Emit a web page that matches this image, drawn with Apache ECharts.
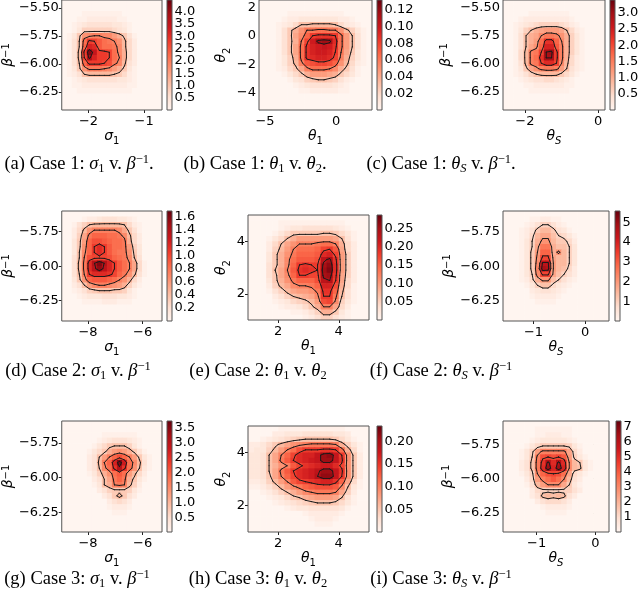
<!DOCTYPE html>
<html lang="en">
<head>
<meta charset="UTF-8">
<title>Posterior density panels</title>
<script src="https://cdn.jsdelivr.net/npm/echarts@6.0.0/dist/echarts.min.js"></script>
<style>
    html, body { margin: 0; padding: 0; background: #fff; }
    #main { width: 640px; height: 602px; }
</style>
</head>
<body>
<div id="main"></div>
<script>
    // density grids: 20 x 20 cells over the axis limits, top row first,
    // one base-36 char per cell (0..z -> 0..colorbar max)
    var densA = [
        "00000000000000000000", "00000000000000000000", "00001111111100000000", "00011222222110000000",
        "00123444443321000000", "00136666665431000000", "0137deffeeca74100000", "0148hmljhgfd95200000",
        "0148ipojhhge95200000", "0149mxrmmlhea5200000", "0149lupmmlhfa5200000", "0148immmlkge94200000",
        "0137dgggfeca73100000", "01248999998752100000", "00123444444332100000", "00112222222221100000",
        "00011111111111000000", "00000000000000000000", "00000000000000000000", "00000000000000000000"];
    var densB = [
        "00000000000000000000", "00000000000000000000", "00000111111111100000", "00001223333333221000",
        "00012358899998532100", "000147adgghhggd96310", "000147beimnnnmhc8410", "000147aglquvuohc8410",
        "000147bhnpqrqnhc8410", "000147bhnpqqpmgb7310", "000136ahnoppolfa6310", "0001369fjkllkid95210",
        "0001257bfhhhgea74100", "00001357acccba753100", "00000134678876421000", "00000012344443210000",
        "00000001122222110000", "00000000000000000000", "00000000000000000000", "00000000000000000000"];
    var densC = [
        "00000000000000000000", "00000000000000000000", "00000111111110000000", "00012222222221000000",
        "00123456666542100000", "001368abcccb85210000", "00148abeggfda6310000", "00148achnniea6310000",
        "00148bdippjfa6310000", "00159fgluvmfa6310000", "00159fhnuumfa5210000", "00149fgloole95210000",
        "00137bdfggfc84210000", "00124689999753100000", "00012344554321000000", "00001122222211000000",
        "00000111111110000000", "00000000000000000000", "00000000000000000000", "00000000000000000000"];
    var densD = [
        "00000000000000000000", "00001223444332100000", "00146899999985210000", "00259dfffffeb7410000",
        "0026bgiiihhge9520000", "0037cikkjihhga520000", "0037dimomjhhgc630000", "0038eimomjhggd730000",
        "0048fklllkihge840000", "0049gotxtpmjhfb51000", "0049goswspmjhfb51000", "0048fmooonligd941000",
        "0037dijjjihfda520000", "00248ceffedca6310000", "00124678887763100000", "00012333444332100000",
        "00001111222111000000", "00000000000000000000", "00000000000000000000", "00000000000000000000"];
    var densE = [
        "00000000000000000000", "00000111111111110000", "00000123344444321000", "00001357777788753100",
        "0001358accccccb84100", "000258bdfffghhfa5200", "000269cfhhhilmjb5200", "00037adgiiijoplc6200",
        "00037aehjjjksunc6200", "00047aeimnmmuwoc6200", "00048bfjnonmvxoc6200", "00047beimmlluvnb6200",
        "00037adgiiikstmb5200", "000269beffgippka5100", "0001469bccdgnni94100", "000024689abemmg84100",
        "00001235679ckle63100", "00000122357affb52000", "000000011246aa731000", "00000000012466421000"];
    var densF = [
        "00000000000000000000", "00000112211000000000", "00001246642100000000", "00012479974310000000",
        "0001259bb86531000000", "000136add97752000000", "000136bgga8863000000", "000137ciiad963000000",
        "000137dllb9963000000", "000137essc9963000000", "000137futc9852000000", "000136ellb8642000000",
        "000125add86421000000", "00001368853210000000", "00000234432100000000", "00000122221000000000",
        "00000011110000000000", "00000000000000000000", "00000000000000000000", "00000000000000000000"];
    var densG = [
        "00000000000000000000", "00000000000000000000", "00000000111111100000", "00000001234443210000",
        "00000013578886310000", "000001357acdca741000", "00000248cfikifc73100", "00000249fipxqhe94100",
        "00000248ehntnhd83100", "00000136adhjhc952000", "000000248bgiga731000", "000000138afgf9620000",
        "00000002467776310000", "00000000247974200000", "00000000024542000000", "00000000012221000000",
        "00000000001110000000", "00000000000000000000", "00000000000000000000", "00000000000000000000"];
    var densH = [
        "00000111111111110000", "00002233344444332000", "00123456788888753100", "223579bdefggggfa6310",
        "23369cfhkmmmnnmha510", "3348bfilopprvwrmd720", "3348bgjmopqrvvrnd720", "3348adfjlnopqqold720",
        "3348bgjmopqsvvrnd720", "3347bfilopqtwwrmd720", "22369cfjlmnoppnib510", "112469cegijkkkje8310",
        "0012468acefgggfb6200", "000123578abcccb84100", "00001234567888753100", "00000012334444431000",
        "00000000012222210000", "00000000001222100000", "00000000000111000000", "00000000000000000000"];
    var densI = [
        "00000000000000000000", "00000011111110000000", "00000011222110000000", "00000123333321000000",
        "00001357777763100000", "000136cfffffb5200000", "000137fklkljc6310000", "000248gntotoe9731000",
        "000248govpvpe9831000", "000136eiklkhb5310000", "000025cfhjhe94200000", "0000149ceeeb73100000",
        "00000256666664200000", "00000248989842000000", "00000024555420000000", "00000001222210000000",
        "00000000111100000000", "00000000000000000000", "00000000000000000000", "00000000000000000000"];

    // axis limits and ticks
    var xLimA = [-2.48, -0.68], yLimA = [-6.41, -5.43], xTicksA = [-2, -1], yTicksA = [-5.5, -5.75, -6.0, -6.25];
    var xLimB = [-5.42, 2.51], yLimB = [-5.22, 2.51], xTicksB = [-5, 0], yTicksB = [2, 0, -2, -4];
    var xLimC = [-2.6, 0.19], yLimC = [-6.41, -5.43], xTicksC = [-2, 0], yTicksC = [-5.5, -5.75, -6.0, -6.25];
    var xLimD = [-8.96, -5.29], yLimD = [-6.397, -5.60], xTicksD = [-8, -6], yTicksD = [-5.75, -6.0, -6.25];
    var xLimE = [1, 5], yLimE = [1, 5], xTicksE = [2, 4], yTicksE = [4, 2];
    var xLimF = [-1.59, 0.46], yLimF = [-6.397, -5.60], xTicksF = [-1, 0], yTicksF = [-5.75, -6.0, -6.25];
    var xLimG = [-8.96, -5.29], yLimG = [-6.39, -5.594], xTicksG = [-8, -6], yTicksG = [-5.75, -6.0, -6.25];
    var xLimH = [1, 5], yLimH = [1, 5], xTicksH = [2, 4], yTicksH = [4, 2];
    var xLimI = [-1.57, 0.23], yLimI = [-6.39, -5.58], xTicksI = [-1, 0], yTicksI = [-5.75, -6.0, -6.25];

    // colorbar max and ticks, contour levels
    var cmaxA = 4.48, cTicksA = [0.5, 1, 1.5, 2, 2.5, 3, 3.5, 4], levelsA = [1.02, 1.92, 2.69, 3.71];
    var cmaxB = 0.132, cTicksB = [0.02, 0.04, 0.06, 0.08, 0.1, 0.12], levelsB = [0.030, 0.060, 0.083, 0.109];
    var cmaxC = 3.40, cTicksC = [0.5, 1, 1.5, 2, 2.5, 3], levelsC = [0.78, 1.36, 2.04, 2.90];
    var cmaxD = 1.69, cTicksD = [0.2, 0.4, 0.6, 0.8, 1.0, 1.2, 1.4, 1.6], levelsD = [0.39, 0.72, 1.06, 1.41];
    var cmaxE = 0.286, cTicksE = [0.05, 0.10, 0.15, 0.20, 0.25], levelsE = [0.065, 0.123, 0.180, 0.237];
    var cmaxF = 5.57, cTicksF = [1, 2, 3, 4, 5], levelsF = [0.95, 1.91, 3.18, 4.30];
    var cmaxG = 3.74, cTicksG = [0.5, 1, 1.5, 2, 2.5, 3, 3.5], levelsG = [0.85, 1.60, 2.35, 3.21];
    var cmaxH = 0.234, cTicksH = [0.05, 0.10, 0.15, 0.20], levelsH = [0.053, 0.100, 0.147, 0.194];
    var cmaxI = 7.37, cTicksI = [1, 2, 3, 4, 5, 6, 7], levelsI = [1.47, 2.95, 4.42, 5.90];

    var REDS = ['#fff5f0', '#fee0d2', '#fcbba1', '#fc9272', '#fb6a4a', '#ef3b2c', '#cb181d', '#a50f15', '#67000d'];

    var SIG1 = '{m|σ}{s|1}', TH1 = '{m|θ}{s|1}', TH2 = '{m|θ}{s|2}', THS = '{m|θ}{si|S}', BINV = '{m|β}{p|−1}';

    var panels = [
        {dens: densA, xLim: xLimA, yLim: yLimA, xTicks: xTicksA, yTicks: yTicksA, yDec: 2, cmax: cmaxA, cTicks: cTicksA, cDec: 1, levels: levelsA,
            box: [61, 0, 162, 110], cbar: [167, 0, 172, 110], xName: SIG1, yName: BINV, yGap: 41,
            cap: '(a) Case 1: {i|σ}{sb|1} v. {i|β}{sp|−1}.', capPos: [79, 153]},
        {dens: densB, xLim: xLimB, yLim: yLimB, xTicks: xTicksB, yTicks: yTicksB, yDec: 0, cmax: cmaxB, cTicks: cTicksB, cDec: 2, levels: levelsB,
            box: [259, 0, 372, 110], cbar: [377, 0, 382, 110], xName: TH1, yName: TH2, yGap: 27,
            cap: '(b) Case 1: {i|θ}{sb|1} v. {i|θ}{sb|2}.', capPos: [255, 153]},
        {dens: densC, xLim: xLimC, yLim: yLimC, xTicks: xTicksC, yTicks: yTicksC, yDec: 2, cmax: cmaxC, cTicks: cTicksC, cDec: 1, levels: levelsC,
            box: [503, 0, 605, 110], cbar: [610, 0, 615, 110], xName: THS, yName: BINV, yGap: 46,
            cap: '(c) Case 1: {i|θ}{sbi|S} v. {i|β}{sp|−1}.', capPos: [441, 153]},
        {dens: densD, xLim: xLimD, yLim: yLimD, xTicks: xTicksD, yTicks: yTicksD, yDec: 2, cmax: cmaxD, cTicks: cTicksD, cDec: 1, levels: levelsD,
            box: [61, 211, 162, 321], cbar: [167, 211, 172, 321], xName: SIG1, yName: BINV, yGap: 42,
            cap: '(d) Case 2: {i|σ}{sb|1} v. {i|β}{sp|−1}', capPos: [78, 360]},
        {dens: densE, xLim: xLimE, yLim: yLimE, xTicks: xTicksE, yTicks: yTicksE, yDec: 0, cmax: cmaxE, cTicks: cTicksE, cDec: 2, levels: levelsE,
            box: [248, 215, 369, 320], cbar: [377, 215, 382, 320], xName: TH1, yName: TH2, yGap: 12,
            cap: '(e) Case 2: {i|θ}{sb|1} v. {i|θ}{sb|2}', capPos: [258, 360]},
        {dens: densF, xLim: xLimF, yLim: yLimF, xTicks: xTicksF, yTicks: yTicksF, yDec: 2, cmax: cmaxF, cTicks: cTicksF, cDec: 0, levels: levelsF,
            box: [503, 211, 609, 321], cbar: [615, 211, 620, 321], xName: THS, yName: BINV, yGap: 41,
            cap: '(f) Case 2: {i|θ}{sbi|S} v. {i|β}{sp|−1}', capPos: [441, 360]},
        {dens: densG, xLim: xLimG, yLim: yLimG, xTicks: xTicksG, yTicks: yTicksG, yDec: 2, cmax: cmaxG, cTicks: cTicksG, cDec: 1, levels: levelsG,
            box: [61, 421, 162, 532], cbar: [167, 421, 172, 532], xName: SIG1, yName: BINV, yGap: 42,
            cap: '(g) Case 3: {i|σ}{sb|1} v. {i|β}{sp|−1}', capPos: [77, 568]},
        {dens: densH, xLim: xLimH, yLim: yLimH, xTicks: xTicksH, yTicks: yTicksH, yDec: 0, cmax: cmaxH, cTicks: cTicksH, cDec: 2, levels: levelsH,
            box: [248, 426, 369, 532], cbar: [377, 426, 382, 532], xName: TH1, yName: TH2, yGap: 12,
            cap: '(h) Case 3: {i|θ}{sb|1} v. {i|θ}{sb|2}', capPos: [258, 568]},
        {dens: densI, xLim: xLimI, yLim: yLimI, xTicks: xTicksI, yTicks: yTicksI, yDec: 2, cmax: cmaxI, cTicks: cTicksI, cDec: 0, levels: levelsI,
            box: [503, 421, 609, 532], cbar: [616, 421, 621, 532], xName: THS, yName: BINV, yGap: 44,
            cap: '(i) Case 3: {i|θ}{sbi|S} v. {i|β}{sp|−1}', capPos: [441, 568]}
    ];

    var SANS = 'DejaVu Sans', SERIF = 'Liberation Serif';

    var nameStyle = {
        fontFamily: SANS, fontSize: 14, color: '#000',
        rich: {
            m: {fontFamily: SANS, fontStyle: 'italic', fontSize: 14, lineHeight: 18, verticalAlign: 'top', color: '#000'},
            s: {fontFamily: SANS, fontSize: 10, lineHeight: 10, verticalAlign: 'bottom', color: '#000'},
            si: {fontFamily: SANS, fontStyle: 'italic', fontSize: 10, lineHeight: 10, verticalAlign: 'bottom', color: '#000'},
            p: {fontFamily: SANS, fontSize: 10, lineHeight: 10, verticalAlign: 'top', color: '#000'}
        }
    };
    var capRich = {
        i: {fontFamily: SERIF, fontStyle: 'italic', fontSize: 18.5, lineHeight: 22, verticalAlign: 'middle', color: '#000'},
        sb: {fontFamily: SERIF, fontSize: 12.5, lineHeight: 12, verticalAlign: 'bottom', color: '#000'},
        sbi: {fontFamily: SERIF, fontStyle: 'italic', fontSize: 12.5, lineHeight: 12, verticalAlign: 'bottom', color: '#000'},
        sp: {fontFamily: SERIF, fontSize: 12.5, lineHeight: 12, verticalAlign: 'top', color: '#000'}
    };

    function fmt(dec) {
        return function (v) { return v.toFixed(dec).replace('-', '\u2212'); };
    }

    function decode(rows, cmax) {
        return rows.map(function (r) {
            var out = [];
            for (var i = 0; i < 20; i++) out.push(parseInt(r.charAt(i) || '0', 36) / 35 * cmax);
            return out;
        });
    }

    // marching squares on cell centres, returns [x1, y1, x2, y2] segments
    function contour(g, xs, ys, L) {
        var segs = [];
        var eps = 1e-9;
        for (var j = 0; j < ys.length - 1; j++) {
            for (var i = 0; i < xs.length - 1; i++) {
                var a = g[j][i], b = g[j][i + 1], c = g[j + 1][i + 1], d = g[j + 1][i];
                var idx = (a >= L - eps ? 8 : 0) | (b >= L - eps ? 4 : 0) | (c >= L - eps ? 2 : 0) | (d >= L - eps ? 1 : 0);
                if (idx === 0 || idx === 15) continue;
                var x0 = xs[i], x1 = xs[i + 1], y0 = ys[j], y1 = ys[j + 1];
                var T = function () { var t = (L - a) / (b - a); return [x0 + t * (x1 - x0), y0]; };
                var R = function () { var t = (L - b) / (c - b); return [x1, y0 + t * (y1 - y0)]; };
                var B = function () { var t = (L - d) / (c - d); return [x0 + t * (x1 - x0), y1]; };
                var Lf = function () { var t = (L - a) / (d - a); return [x0, y0 + t * (y1 - y0)]; };
                var pairs = [];
                var mid = (a + b + c + d) / 4;
                switch (idx) {
                    case 1: case 14: pairs = [[Lf, B]]; break;
                    case 2: case 13: pairs = [[B, R]]; break;
                    case 3: case 12: pairs = [[Lf, R]]; break;
                    case 4: case 11: pairs = [[T, R]]; break;
                    case 6: case 9: pairs = [[T, B]]; break;
                    case 7: case 8: pairs = [[Lf, T]]; break;
                    case 5: pairs = mid >= L ? [[Lf, T], [B, R]] : [[T, R], [Lf, B]]; break;
                    case 10: pairs = mid >= L ? [[T, R], [Lf, B]] : [[Lf, T], [B, R]]; break;
                }
                pairs.forEach(function (pr) {
                    var p = pr[0](), q = pr[1]();
                    segs.push([p[0], p[1], q[0], q[1]]);
                });
            }
        }
        return segs;
    }

    var option = {
        animation: false,
        backgroundColor: '#fff',
        title: [], grid: [], xAxis: [], yAxis: [], visualMap: [], series: []
    };

    panels.forEach(function (p, k) {
        var g = decode(p.dens, p.cmax);
        var nx = 20, ny = 20;
        var dx = (p.xLim[1] - p.xLim[0]) / nx, dy = (p.yLim[1] - p.yLim[0]) / ny;
        var xs = [], ys = [];
        for (var i = 0; i < nx; i++) xs.push(p.xLim[0] + (i + 0.5) * dx);
        for (var j = 0; j < ny; j++) ys.push(p.yLim[1] - (j + 0.5) * dy);
        var cells = [];
        for (j = 0; j < ny; j++) for (i = 0; i < nx; i++) cells.push([xs[i], ys[j], g[j][i]]);
        var segs = [];
        p.levels.forEach(function (L) { segs = segs.concat(contour(g, xs, ys, L)); });

        // plot + colorbar frames
        option.grid.push({left: p.box[0], top: p.box[1], width: p.box[2] - p.box[0], height: p.box[3] - p.box[1],
            show: true, z: 10, borderColor: '#555', borderWidth: 1, backgroundColor: 'transparent'});
        option.grid.push({left: p.cbar[0], top: p.cbar[1], width: p.cbar[2] - p.cbar[0], height: p.cbar[3] - p.cbar[1],
            show: true, z: 10, borderColor: '#555', borderWidth: 1, backgroundColor: 'transparent'});

        var tickLab = {fontFamily: SANS, fontSize: 13, color: '#000'};
        option.xAxis.push({
            gridIndex: 2 * k, type: 'value', min: p.xLim[0], max: p.xLim[1],
            name: p.xName, nameLocation: 'middle', nameGap: 15, nameTextStyle: nameStyle,
            axisLine: {show: false}, splitLine: {show: false},
            axisTick: {customValues: p.xTicks, length: 3, lineStyle: {color: '#222'}},
            axisLabel: Object.assign({customValues: p.xTicks, formatter: fmt(0), margin: 5}, tickLab)
        });
        option.yAxis.push({
            gridIndex: 2 * k, type: 'value', min: p.yLim[0], max: p.yLim[1],
            name: p.yName, nameLocation: 'middle', nameGap: p.yGap, nameTextStyle: nameStyle,
            axisLine: {show: false}, splitLine: {show: false},
            axisTick: {customValues: p.yTicks, length: 3, lineStyle: {color: '#222'}},
            axisLabel: Object.assign({customValues: p.yTicks, formatter: fmt(p.yDec), margin: 3}, tickLab)
        });
        option.xAxis.push({gridIndex: 2 * k + 1, type: 'value', min: 0, max: 1, show: false});
        // colorbar axis: ticks from the axis, labels drawn by the colorbar series
        option.yAxis.push({
            gridIndex: 2 * k + 1, type: 'value', position: 'right', min: 0, max: p.cmax,
            axisLine: {show: false}, splitLine: {show: false}, axisLabel: {show: false},
            axisTick: {customValues: p.cTicks, length: 2, lineStyle: {color: '#222'}}
        });

        option.visualMap.push({
            type: 'continuous', show: false, seriesIndex: 3 * k, dimension: 2,
            min: 0, max: p.cmax, inRange: {color: REDS}
        });

        option.series.push({
            type: 'custom', xAxisIndex: 2 * k, yAxisIndex: 2 * k, data: cells, clip: true, silent: true,
            encode: {x: 0, y: 1},
            renderItem: function (params, api) {
                var p0 = api.coord([api.value(0) - dx / 2, api.value(1) + dy / 2]);
                var p1 = api.coord([api.value(0) + dx / 2, api.value(1) - dy / 2]);
                return {type: 'rect', shape: {x: p0[0], y: p0[1], width: p1[0] - p0[0] + 0.6, height: p1[1] - p0[1] + 0.6},
                    style: {fill: api.visual('color')}};
            }
        });
        option.series.push({
            type: 'custom', xAxisIndex: 2 * k, yAxisIndex: 2 * k, data: segs, clip: true, silent: true, z: 3,
            encode: {x: [0, 2], y: [1, 3]},
            renderItem: function (params, api) {
                var a = api.coord([api.value(0), api.value(1)]);
                var b = api.coord([api.value(2), api.value(3)]);
                return {type: 'line', shape: {x1: a[0], y1: a[1], x2: b[0], y2: b[1]},
                    style: {stroke: '#1a1a1a', lineWidth: 1, lineCap: 'round'}};
            }
        });
        option.series.push({
            type: 'custom', xAxisIndex: 2 * k + 1, yAxisIndex: 2 * k + 1, data: [[0, 0]], silent: true,
            renderItem: function (params, api) {
                var a = api.coord([0, p.cmax]), b = api.coord([1, 0]);
                var kids = [{type: 'rect', shape: {x: a[0], y: a[1], width: b[0] - a[0], height: b[1] - a[1]},
                    style: {fill: {type: 'linear', x: 0, y: 1, x2: 0, y2: 0,
                        colorStops: REDS.map(function (c, n) { return {offset: n / (REDS.length - 1), color: c}; })}}}];
                p.cTicks.forEach(function (v) {
                    var t = api.coord([1, v]);
                    kids.push({type: 'text', x: t[0] + 2.5, y: t[1],
                        style: {legacy: false, text: fmt(p.cDec)(v), fill: '#000', fontFamily: SANS, fontSize: 13,
                            align: 'left', verticalAlign: 'middle'}});
                });
                return {type: 'group', children: kids};
            }
        });

        option.title.push({
            text: p.cap, left: p.capPos[0], top: p.capPos[1], textAlign: 'center', padding: 0,
            textStyle: {fontFamily: SERIF, fontSize: 18.5, fontWeight: 'normal', color: '#000', lineHeight: 22, rich: capRich}
        });
    });

    var myChart = echarts.init(document.getElementById('main'), null, {renderer: 'canvas'});
    myChart.setOption(option);
</script>
</body>
</html>
